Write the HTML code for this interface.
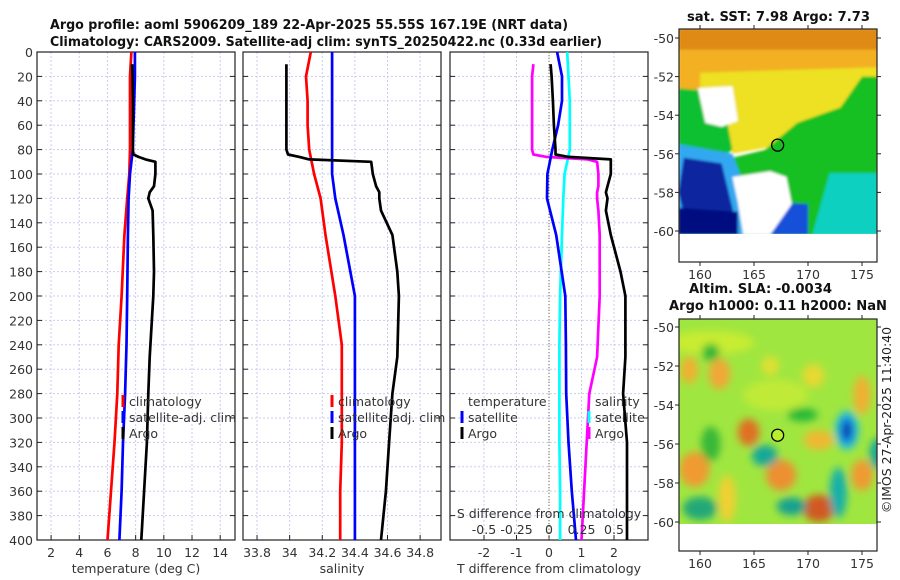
<!DOCTYPE html>
<html><head><meta charset="utf-8">
<style>
html,body{margin:0;padding:0;background:#fff;}
svg{display:block;font-family:"DejaVu Sans","Liberation Sans",sans-serif;}
.tk{font-size:12.5px;fill:#333;}
.ttl{font-size:13px;font-weight:bold;fill:#111;}
</style></head>
<body>
<svg id="chart" width="900" height="580" viewBox="0 0 900 580">
<text class="ttl" x="50" y="29" textLength="518" lengthAdjust="spacingAndGlyphs">Argo profile: aoml 5906209_189 22-Apr-2025 55.55S 167.19E (NRT data)</text>
<text class="ttl" x="50" y="46" textLength="552" lengthAdjust="spacingAndGlyphs">Climatology: CARS2009. Satellite-adj clim: synTS_20250422.nc (0.33d earlier)</text>
<g id="panels"></g>
<g id="maps"></g>
<text x="0" y="0" transform="translate(891,420) rotate(-90)" text-anchor="middle" style="font-size:12.5px;fill:#222">©IMOS 27-Apr-2025 11:40:40</text>
</svg>
<script>
// ---- data ----
const tDepth = [0,10,20,40,60,80,84,86,88,90,100,110,115,120,130,150,180,200,250,280,320,360,400];
const climDepth = [0,20,40,60,80,100,120,150,200,240,280,320,360,400];
const tClim = [7.7,7.6,7.6,7.6,7.6,7.55,7.4,7.2,7.0,6.8,6.7,6.5,6.25,6.0];
const tSat = [7.95,7.95,7.9,7.85,7.8,7.6,7.5,7.45,7.4,7.35,7.25,7.1,7.0,6.85];
const tArgo = [7.75,7.75,7.78,7.8,7.8,7.8,7.85,8.2,8.7,9.4,9.4,9.3,9.0,8.9,9.2,9.25,9.3,9.25,9.0,8.9,8.8,8.6,8.4];
const sClim = [34.13,34.10,34.11,34.11,34.12,34.15,34.19,34.22,34.28,34.32,34.32,34.32,34.31,34.31];
const sSat = [34.26,34.26,34.26,34.26,34.26,34.26,34.28,34.33,34.40,34.40,34.40,34.40,34.40,34.40];
const sArgo = [33.98,33.98,33.98,33.98,33.98,33.98,33.99,34.06,34.12,34.50,34.51,34.53,34.55,34.55,34.56,34.63,34.66,34.67,34.66,34.63,34.61,34.59,34.56];
const dTArgo = [0.03,0.05,0.08,0.12,0.15,0.2,0.2,0.6,1.9,1.9,1.9,1.8,1.75,1.8,1.75,1.9,2.2,2.35,2.35,2.28,2.4,2.4,2.4];
const dTSat = [0.25,0.4,0.4,0.28,0.1,-0.05,-0.06,0.22,0.5,0.52,0.53,0.6,0.7,0.83];
const dSSat = [0.14,0.15,0.16,0.16,0.16,0.12,0.11,0.10,0.085,0.08,0.08,0.08,0.085,0.085];
const dSArgo = [-0.15,-0.12,-0.13,-0.13,-0.13,-0.13,-0.12,-0.02,0.3,0.37,0.38,0.38,0.37,0.37,0.38,0.39,0.39,0.39,0.37,0.31,0.29,0.27,0.25];
const depthTicks = [0,20,40,60,80,100,120,140,160,180,200,220,240,260,280,300,320,340,360,380,400];
const tTicks = [2,4,6,8,10,12,14];
const sTicks = [33.8,34,34.2,34.4,34.6,34.8];
const dTTicks = [-2,-1,0,1,2];
const dSTicks = [-0.5,-0.25,0,0.25,0.5];
const dSTickLabels = ['-0.5','-0.25','0','0.25','0.5'];
const latTicks = [-50,-52,-54,-56,-58,-60];
const lonTicks = [160,165,170,175];
const argoLon = 167.19, argoLat = -55.55;

const NS='http://www.w3.org/2000/svg';
function mk(tag, attrs, parent){const e=document.createElementNS(NS,tag);for(const k in attrs)e.setAttribute(k,attrs[k]);parent.appendChild(e);return e;}
const panels=document.getElementById('panels');
const Y0=52, Y1=540;
const yD = d => Y0 + d/400*(Y1-Y0);

function panel(name,x0,x1,xmin,xmax,ticks,labels,xlabel,showY){
  const g=mk('g',{},panels);
  
  
  const sx=v=>x0+(v-xmin)/(xmax-xmin)*(x1-x0);
  depthTicks.forEach(d=>{
    if(d>0&&d<400){const l=mk('line',{x1:x0,x2:x1,y1:yD(d),y2:yD(d),stroke:'#c8cdf0','stroke-width':1,'stroke-dasharray':'2,2'},g);
    
    }
    mk('line',{x1:x0,x2:x0+5,y1:yD(d),y2:yD(d),stroke:'#222'},g);
    mk('line',{x1:x1-5,x2:x1,y1:yD(d),y2:yD(d),stroke:'#222'},g);
    if(showY){const t=mk('text',{x:x0-4,y:yD(d)+5,'text-anchor':'end',class:'tk'},g);t.textContent=d;
      
      }
  });
  ticks.forEach((v,i)=>{
    const l=mk('line',{x1:sx(v),x2:sx(v),y1:Y0,y2:Y1,stroke:'#c8cdf0','stroke-width':1,'stroke-dasharray':'2,2'},g);
    
    
    mk('line',{x1:sx(v),x2:sx(v),y1:Y1,y2:Y1-5,stroke:'#222'},g);
    const t=mk('text',{x:sx(v),y:Y1+17,'text-anchor':'middle',class:'tk'},g);t.textContent=labels[i];
    
    
  });
  mk('rect',{x:x0,y:Y0,width:x1-x0,height:Y1-Y0,fill:'none',stroke:'#222','stroke-width':1.2},g);
  const xl=mk('text',{x:(x0+x1)/2,y:Y1+33,'text-anchor':'middle',class:'tk'},g);xl.textContent=xlabel;
  
  
  return {g,sx};
}
function line(p,depths,vals,color,name,sx){
  const f=sx||p.sx;
  const pts=depths.map((d,i)=>f(vals[i]).toFixed(1)+','+yD(d).toFixed(1)).join(' ');
  const l=mk('polyline',{points:pts,fill:'none',stroke:color,'stroke-width':2.7,'stroke-linejoin':'round'},p.g);
  
  
}
function legend(p,x,y,color,label,name){
  if(color){mk('line',{x1:x,x2:x,y1:y-11,y2:y+1,stroke:color,'stroke-width':3},p.g);}
  const t=mk('text',{x:x+6,y:y,class:'tk'},p.g);t.textContent=label;
  
  
}

// Panel 1 temperature
const p1=panel('temperature-panel',37,235,1,15.05,tTicks,tTicks.map(String),'temperature (deg C)',true);
line(p1,climDepth,tClim,'#ff0000','temp-climatology-line');
line(p1,climDepth,tSat,'#0000ff','temp-satellite-line');
line(p1,tDepth.slice(1),tArgo.slice(1),'#000000','temp-argo-line');
legend(p1,123,406,'#ff0000','climatology','legend-climatology');
legend(p1,123,422,'#0000ff','satellite-adj. clim','legend-satellite');
legend(p1,123,438,'#000000','Argo','legend-argo');

// Panel 2 salinity
const p2=panel('salinity-panel',243,441,33.714,34.928,sTicks,sTicks.map(v=>String(v)),'salinity',false);
line(p2,climDepth,sClim,'#ff0000','sal-climatology-line');
line(p2,climDepth,sSat,'#0000ff','sal-satellite-line');
line(p2,tDepth.slice(1),sArgo.slice(1),'#000000','sal-argo-line');
legend(p2,332,406,'#ff0000','climatology','legend-climatology-2');
legend(p2,332,422,'#0000ff','satellite-adj. clim','legend-satellite-2');
legend(p2,332,438,'#000000','Argo','legend-argo-2');

// Panel 3 differences
const p3=panel('difference-panel',450,648,-3.046,3.046,dTTicks,dTTicks.map(String),'T difference from climatology',false);
const sxS=v=>p3.sx(v*4);
const z=mk('line',{x1:p3.sx(0),x2:p3.sx(0),y1:Y0,y2:Y1,stroke:'#7a6a3a','stroke-width':1,'stroke-dasharray':'1,2'},p3.g);


line(p3,climDepth,dSSat,'#00ffff','s-diff-satellite-line',sxS);
line(p3,tDepth.slice(1),dSArgo.slice(1),'#ff00ff','s-diff-argo-line',sxS);
line(p3,climDepth,dTSat,'#0000ff','t-diff-satellite-line');
line(p3,tDepth.slice(1),dTArgo.slice(1),'#000000','t-diff-argo-line');
legend(p3,462,406,null,'temperature','legend-temperature-header');
legend(p3,462,422,'#0000ff','satellite','legend-t-satellite');
legend(p3,462,438,'#000000','Argo','legend-t-argo');
legend(p3,589,406,null,'salinity','legend-salinity-header');
legend(p3,589,422,'#00ffff','satellite','legend-s-satellite');
legend(p3,589,438,'#ff00ff','Argo','legend-s-argo');
const st=mk('text',{x:549,y:518,'text-anchor':'middle',class:'tk'},p3.g);st.textContent='S difference from climatology';


dSTicks.forEach((v,i)=>{const t=mk('text',{x:sxS(v),y:534,'text-anchor':'middle',class:'tk'},p3.g);t.textContent=dSTickLabels[i];
  
  });

// ---- Maps ----
const maps=document.getElementById('maps');
const defs=mk('defs',{},maps);
const flt=mk('filter',{id:'blur',x:'-50%',y:'-50%',width:'200%',height:'200%'},defs);
mk('feGaussianBlur',{stdDeviation:4},flt);
const flt2=mk('filter',{id:'blur2',x:'-50%',y:'-50%',width:'200%',height:'200%'},defs);
mk('feGaussianBlur',{stdDeviation:1.2},flt2);

function mapFrame(name,top,bottom,lat50y,lat60y,title1,title2,tl1,tl2){
  const L=679,R=877;
  const g=mk('g',{},maps);
  
  
  const sxm=lon=>700+(lon-160)*10.8;
  const sym=lat=>lat50y+(-50-lat)/10*(lat60y-lat50y);
  const cid='clip-'+name;
  const cp=mk('clipPath',{id:cid},defs);mk('rect',{x:L,y:top,width:R-L,height:bottom-top},cp);
  const inner=mk('g',{'clip-path':'url(#'+cid+')'},g);
  return {g,inner,sxm,sym,L,R,top,bottom,finish(){
    mk('rect',{x:L,y:top,width:R-L,height:bottom-top,fill:'none',stroke:'#222','stroke-width':1.2},g);
    latTicks.forEach(v=>{mk('line',{x1:L-4,x2:L,y1:sym(v),y2:sym(v),stroke:'#222'},g);
      mk('line',{x1:R,x2:R+4,y1:sym(v),y2:sym(v),stroke:'#222'},g);
      const t=mk('text',{x:L-5,y:sym(v)+5,'text-anchor':'end',class:'tk'},g);t.textContent=v;
      
      });
    lonTicks.forEach(v=>{mk('line',{x1:sxm(v),x2:sxm(v),y1:bottom,y2:bottom+4,stroke:'#222'},g);
      mk('line',{x1:sxm(v),x2:sxm(v),y1:top-4,y2:top,stroke:'#222'},g);
      const t=mk('text',{x:sxm(v),y:bottom+17,'text-anchor':'middle',class:'tk'},g);t.textContent=v;
      
      });
    const t1=mk('text',{x:tl1[0],y:top-(title2?26:8),textLength:tl1[1],lengthAdjust:'spacingAndGlyphs',class:'ttl'},g);t1.textContent=title1;
    
    
    if(title2){const t2=mk('text',{x:tl2[0],y:top-9,textLength:tl2[1],lengthAdjust:'spacingAndGlyphs',class:'ttl'},g);t2.textContent=title2;
      
      }
  }};
}
function poly(m,pts,fill,parent,filter){
  const a={points:pts.map(p=>m.sxm(p[0]).toFixed(1)+','+m.sym(p[1]).toFixed(1)).join(' '),fill:fill};
  if(filter)a.filter=filter;
  return mk('polygon',a,parent||m.inner);
}
function blob(m,lon,lat,rl,rt,fill,parent){
  return mk('ellipse',{cx:m.sxm(lon),cy:m.sym(lat),rx:rl*10.8,ry:rt*19.4,fill:fill},parent);
}

// Map 1 SST
const m1=mapFrame('sst-map',29,262,38,231,'sat. SST: 7.98 Argo: 7.73',null,[687,183]);
const g1=mk('g',{filter:'url(#blur2)'},m1.inner);
poly(m1,[[158,-49.5],[177,-49.5],[177,-53],[158,-53]],'#f2b020',g1);
poly(m1,[[158,-49.5],[177,-49.5],[177,-50.6],[158,-50.6]],'#e08a18',g1);
poly(m1,[[160,-51.8],[177,-51.5],[177,-53.5],[173,-53.8],[169,-54.5],[167,-55.6],[163,-56],[162,-54],[160,-53]],'#eee020',g1);
poly(m1,[[158,-52.6],[162,-52.8],[163,-55.8],[162,-56.2],[158,-56]],'#10c030',g1);
poly(m1,[[166,-55.8],[169,-54.4],[173,-53.6],[175,-52],[177,-52],[177,-61],[158,-61],[158,-57],[163,-56.2]],'#18c020',g1);
poly(m1,[[172,-57],[177,-57],[177,-61],[170,-61]],'#10d0c0',g1);
poly(m1,[[158,-55.5],[163,-56],[164,-57.5],[164,-61],[158,-61]],'#30a8f0',g1);
poly(m1,[[158.5,-56.2],[162,-56.5],[163,-58.8],[163.5,-60.2],[159,-60.2],[158,-58]],'#0828a0',g1);
poly(m1,[[158,-58.8],[163.5,-59],[163.5,-60.2],[158,-60.2]],'#000e80',g1);
poly(m1,[[166,-58.5],[170,-58.6],[170,-60.2],[166,-60.2]],'#1850d8',g1);
poly(m1,[[159.8,-52.6],[163,-52.5],[163.5,-54.3],[162,-54.6],[160.5,-54.4]],'#ffffff',g1);
poly(m1,[[163,-57.2],[166.5,-56.9],[168,-57.2],[168.5,-58.6],[166.5,-60.2],[164,-60.2],[163.5,-58.5]],'#ffffff',g1);
poly(m1,[[158,-60.15],[177,-60.15],[177,-62],[158,-62]],'#ffffff',m1.inner);
const c1=mk('circle',{cx:m1.sxm(argoLon),cy:m1.sym(argoLat),r:6,fill:'none',stroke:'#000','stroke-width':1.3},m1.inner);


m1.finish();

// Map 2 SLA
const m2=mapFrame('sla-map',319,551,327,522,'Altim. SLA: -0.0034','Argo h1000: 0.11 h2000: NaN',[689,143],[669,218]);
mk('rect',{x:679,y:319,width:198,height:232,fill:'#a0e640'},m2.inner);
const g2=mk('g',{filter:'url(#blur)'},m2.inner);
[[161,-50.8,4,0.6,'#c8ec30'],[167,-53.5,3,0.8,'#c0ea38'],
 [159.5,-57.3,1.4,0.9,'#f09a30'],[161.8,-52.4,1.0,0.8,'#f0a838'],[159,-52.2,0.8,0.7,'#f0b030'],[164.5,-55.4,1.0,0.7,'#e07020'],
 [167.5,-57.6,1.4,0.8,'#ec9030'],[171,-59.3,1.5,0.7,'#d05a20'],[175,-57.6,1.0,0.8,'#f09a30'],[175,-53.5,0.8,1.0,'#f0b030'],
 [171,-55.8,1.4,0.5,'#f0b830'],[162.5,-58.8,0.8,1.2,'#f0d030'],[170.5,-52.5,1.0,0.6,'#e8d830'],[166.5,-52,0.8,0.5,'#e0e030'],
 [166,-56.6,1.2,0.55,'#18a898'],[168.5,-59.2,1.4,0.45,'#18a090'],[160,-59.3,1.6,0.6,'#20a878'],[172.8,-58.5,0.8,1.3,'#18b0a8'],
 [176.5,-56.5,0.8,0.8,'#18a898'],[161,-51.3,0.8,0.45,'#28b838'],[169.5,-54.5,1.4,0.35,'#28b838'],[161,-56,0.9,0.9,'#38b838'],
 [173.6,-55.3,1.1,1.0,'#20c0e0'],[173.6,-55.3,0.6,0.65,'#1058d0'],[173.6,-55.3,0.3,0.35,'#0830a0']
].forEach(b=>blob(m2,b[0],b[1],b[2],b[3],b[4],g2));
poly(m2,[[158,-60.1],[177,-60.1],[177,-62],[158,-62]],'#ffffff',m2.inner);
const c2=mk('circle',{cx:m2.sxm(argoLon),cy:m2.sym(argoLat),r:6,fill:'#b8f030',stroke:'#000','stroke-width':1.3},m2.inner);


m2.finish();
</script>
</body></html>
